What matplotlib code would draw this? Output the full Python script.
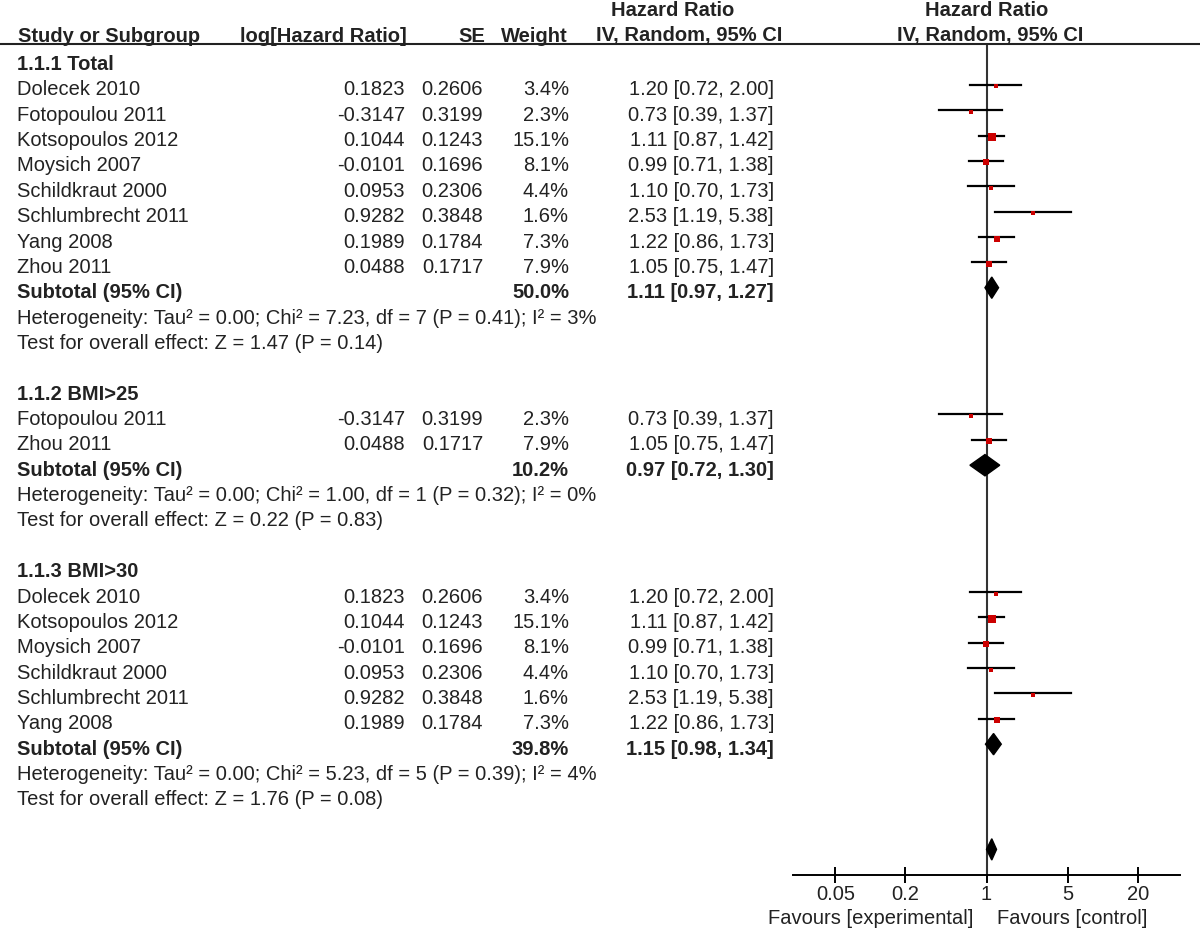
import numpy as np
import matplotlib
matplotlib.use('Agg')
from matplotlib import pyplot as plt
from matplotlib import transforms
from matplotlib.lines import Line2D
from matplotlib.ticker import NullLocator

plt.rcParams['font.family'] = ['Liberation Sans', 'DejaVu Sans']

# study level data
studies = ['Dolecek 2010', 'Fotopoulou 2011', 'Kotsopoulos 2012', 'Moysich 2007',
           'Schildkraut 2000', 'Schlumbrecht 2011', 'Yang 2008', 'Zhou 2011']
log_hr = ['0.1823', '-0.3147', '0.1044', '-0.0101', '0.0953', '0.9282', '0.1989', '0.0488']
se = ['0.2606', '0.3199', '0.1243', '0.1696', '0.2306', '0.3848', '0.1784', '0.1717']
weight = [3.4, 2.3, 15.1, 8.1, 4.4, 1.6, 7.3, 7.9]
hr = [1.20, 0.73, 1.11, 0.99, 1.10, 2.53, 1.22, 1.05]
ci_lo = [0.72, 0.39, 0.87, 0.71, 0.70, 1.19, 0.86, 0.75]
ci_hi = [2.00, 1.37, 1.42, 1.38, 1.73, 5.38, 1.73, 1.47]

# subgroups
group_titles = ['1.1.1 Total', '1.1.2 BMI>25', '1.1.3 BMI>30']
group_members = [[0, 1, 2, 3, 4, 5, 6, 7], [1, 7], [0, 2, 3, 4, 5, 6]]
sub_weight = ['50.0%', '10.2%', '39.8%']
sub_hr = [1.11, 0.97, 1.15]
sub_lo = [0.97, 0.72, 0.98]
sub_hi = [1.27, 1.30, 1.34]
het_text = ['Heterogeneity: Tau\u00b2 = 0.00; Chi\u00b2 = 7.23, df = 7 (P = 0.41); I\u00b2 = 3%',
            'Heterogeneity: Tau\u00b2 = 0.00; Chi\u00b2 = 1.00, df = 1 (P = 0.32); I\u00b2 = 0%',
            'Heterogeneity: Tau\u00b2 = 0.00; Chi\u00b2 = 5.23, df = 5 (P = 0.39); I\u00b2 = 4%']
effect_text = ['Test for overall effect: Z = 1.47 (P = 0.14)',
               'Test for overall effect: Z = 0.22 (P = 0.83)',
               'Test for overall effect: Z = 1.76 (P = 0.08)']

# overall diamond (no label in the figure)
total_hr, total_lo, total_hi = 1.11, 1.00, 1.22

xticks = [0.05, 0.2, 1, 5, 20]
xticklabels = ['0.05', '0.2', '1', '5', '20']

W, H = 1200, 930
FS = 14.5
TXT = '#222222'
RED = '#cc0000'

fig = plt.figure(figsize=(W / 100, H / 100), dpi=100)
ax = fig.add_axes([789 / W, 55 / H, 395 / W, (875 - 44) / H])
ax.set_xscale('log')
ax.set_xlim(0.02, 50)
ax.set_ylim(31.96, -0.81)

T = transforms.blended_transform_factory(fig.transFigure, ax.transData)


def put(xpx, row, s, ha='left', bold=False):
    ax.text(xpx / W, row, s, transform=T, ha=ha, va='center', fontsize=FS,
            fontweight='bold' if bold else 'normal', color=TXT, clip_on=False)


def diamond(row, c, lo, hi, h=0.42):
    ax.fill([lo, c, hi, c], [row, row - h, row, row + h], color='black', zorder=4)


off = 0.2  # graph marks sit a bit higher than the text
row = 0
for g, title in enumerate(group_titles):
    put(17, row, title, bold=True)
    row += 1
    for i in group_members[g]:
        put(17, row, studies[i])
        put(405, row, log_hr[i], ha='right')
        put(483, row, se[i], ha='right')
        put(569, row, '%.1f%%' % weight[i], ha='right')
        put(774, row, '%.2f [%.2f, %.2f]' % (hr[i], ci_lo[i], ci_hi[i]), ha='right')
        ax.plot([ci_lo[i], ci_hi[i]], [row - off, row - off], color='black', lw=1.6, zorder=3)
        side = max(4.0, 2.0 * np.sqrt(weight[i]))  # box side in pixels
        ax.plot([hr[i]], [row - off + 0.06], marker='s', color=RED, ls='none',
                markersize=0.72 * side, markeredgewidth=0, zorder=5)
        row += 1
    put(17, row, 'Subtotal (95% CI)', bold=True)
    put(569, row, sub_weight[g], ha='right', bold=True)
    put(774, row, '%.2f [%.2f, %.2f]' % (sub_hr[g], sub_lo[g], sub_hi[g]), ha='right', bold=True)
    diamond(row - off, sub_hr[g], sub_lo[g], sub_hi[g])
    row += 1
    put(17, row, het_text[g])
    row += 1
    put(17, row, effect_text[g])
    row += 2

diamond(row - 0.05, total_hr, total_lo, total_hi)

ax.axvline(1, color='#333333', lw=1.5, zorder=2)

# headers
def head(xpx, ypx, s, ha):
    fig.text(xpx / W, 1 - ypx / H, s, ha=ha, va='center', fontsize=FS,
             fontweight='bold', color=TXT)

head(18, 36, 'Study or Subgroup', 'left')
head(407, 36, 'log[Hazard Ratio]', 'right')
head(485, 36, 'SE', 'right')
head(568, 36, 'Weight', 'right')
head(673, 11, 'Hazard Ratio', 'center')
head(689, 36, 'IV, Random, 95% CI', 'center')
head(987, 11, 'Hazard Ratio', 'center')
head(990, 36, 'IV, Random, 95% CI', 'center')
fig.add_artist(Line2D([0, 1], [1 - 44 / H, 1 - 44 / H], transform=fig.transFigure,
                      color='#222222', lw=1.5))

# axis
for s in ['top', 'left', 'right']:
    ax.spines[s].set_visible(False)
ax.spines['bottom'].set_bounds(0.0215, 46.5)
ax.spines['bottom'].set_linewidth(1.4)
ax.set_yticks([])
ax.set_xticks(xticks)
ax.set_xticklabels(xticklabels)
ax.xaxis.set_minor_locator(NullLocator())
ax.tick_params(axis='x', direction='inout', length=11, width=1.4, labelsize=FS,
               labelcolor=TXT, pad=2)
ax.patch.set_visible(False)

fig.text(973 / W, 1 - 918 / H, 'Favours [experimental]', ha='right', va='center',
         fontsize=FS, color=TXT)
fig.text(997 / W, 1 - 918 / H, 'Favours [control]', ha='left', va='center',
         fontsize=FS, color=TXT)

fig.savefig('out.png', dpi=100)
